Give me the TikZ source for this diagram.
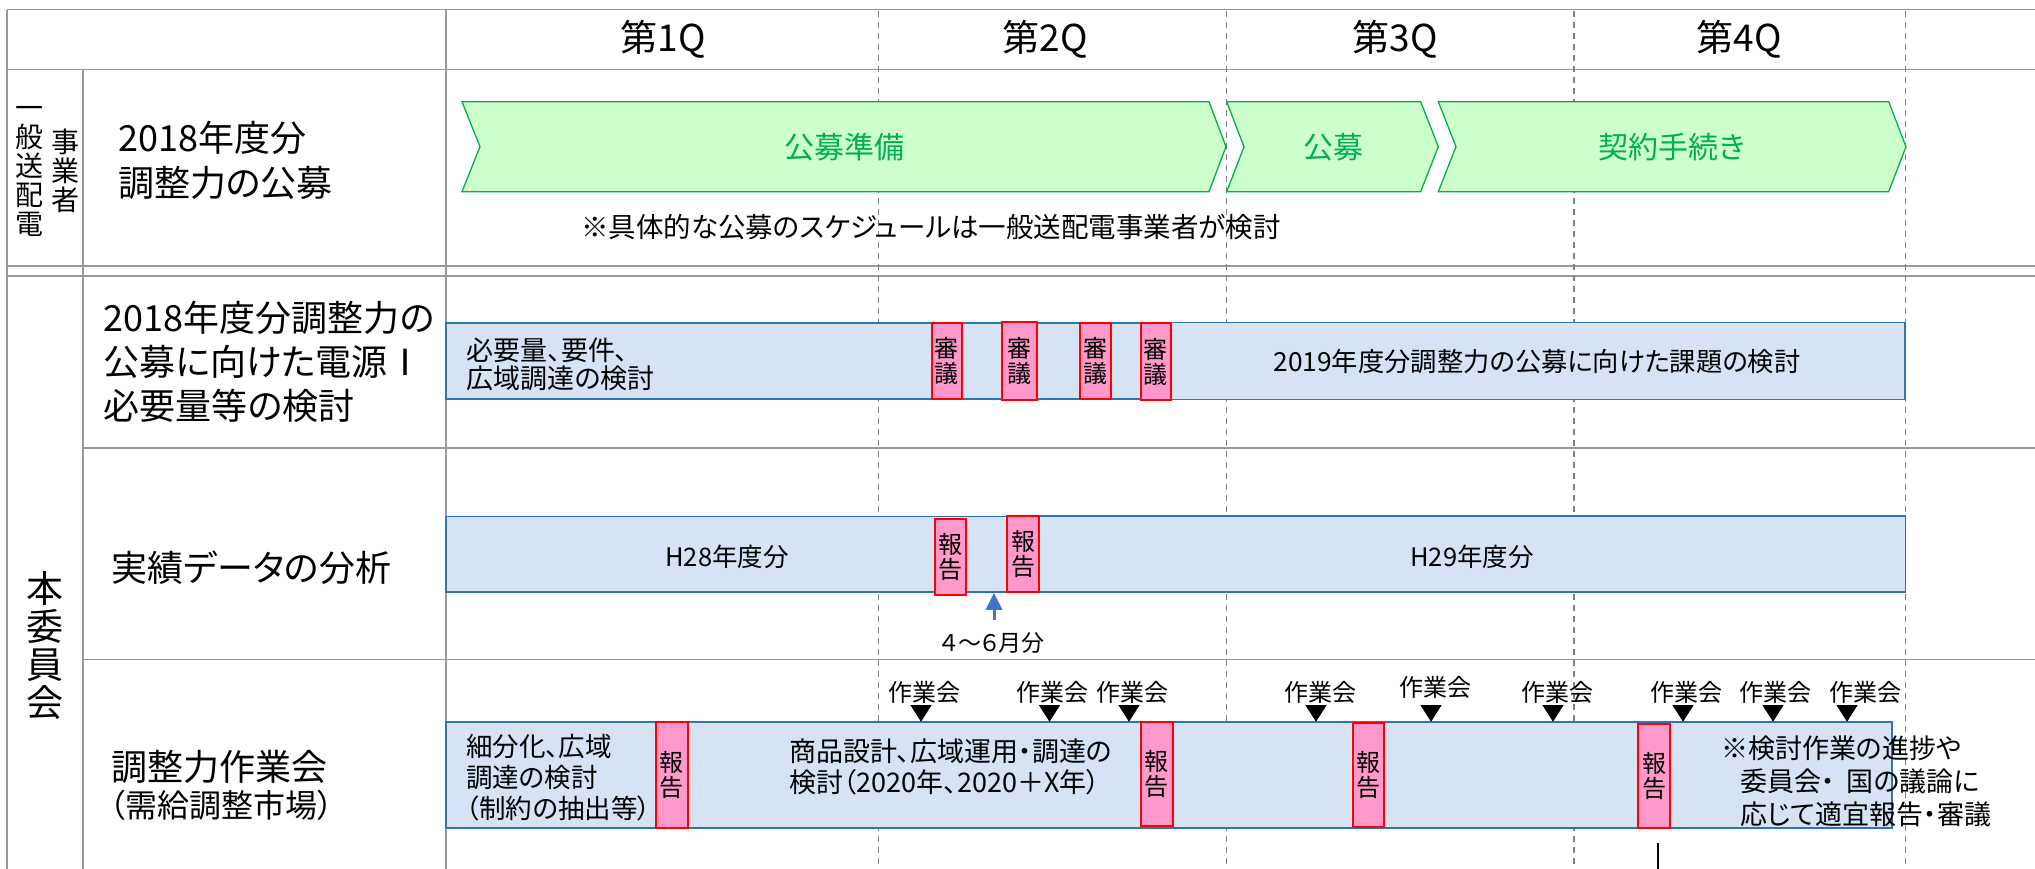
\documentclass[tikz,border=0pt]{standalone}
\usepackage{fontspec}
\setmainfont{Noto Sans CJK JP}[CharacterWidth=AlternateProportional]
\usetikzlibrary{fit,arrows.meta}
\definecolor{tgray}{HTML}{999999}
\definecolor{dgray}{HTML}{808080}
\definecolor{bfill}{HTML}{D5E3F5}
\definecolor{bdraw}{HTML}{2E75B6}
\definecolor{pfill}{HTML}{FF99CC}
\definecolor{gfill}{HTML}{CCFFCC}
\definecolor{gdraw}{HTML}{00B050}
\definecolor{arrblue}{HTML}{4472C4}
\newcommand\setfs[2]{\fontsize{#1}{#2}\selectfont}
\begin{document}
\begin{tikzpicture}[x=1pt,y=-1pt,
  tline/.style={draw=tgray, line width=1.8pt},
  qline/.style={draw=dgray, line width=1.3pt, dash pattern=on 6pt off 5pt},
  bluebar/.style={draw=bdraw, fill=bfill, line width=1.6pt, inner sep=0pt},
  pinkbox/.style={draw=red, fill=pfill, line width=2pt, inner sep=0pt},
  ptxt/.style={align=center, inner sep=0pt, font=\setfs{24}{25}},
  chev/.style={draw=gdraw, fill=gfill, line width=1.3pt},
  chevtxt/.style={text=gdraw, font=\setfs{30}{36}, inner sep=0pt},
  hdr/.style={font=\setfs{37}{42}, inner sep=0pt},
  lbl/.style={font=\setfs{36}{45}, align=left, anchor=west, inner sep=0pt},
  btxt/.style={font=\setfs{27}{28}, align=left, anchor=west, inner sep=0pt},
  wg/.style={font=\setfs{24}{26}, inner sep=0pt},
  vtxt/.style={align=center, inner sep=0pt}
]
\useasboundingbox (0,0) rectangle (2035,868);
% table lines
\draw[tline] (7,9.5) -- (2035,9.5);
\draw[tline] (7,69.5) -- (2035,69.5);
\draw[tline] (7,266) -- (2035,266);
\draw[tline] (7,276) -- (2035,276);
\draw[tline] (83,448) -- (2035,448);
\draw[tline] (83,659.5) -- (2035,659.5);
\draw[tline] (7,9.5) -- (7,870);
\draw[tline] (83,69.5) -- (83,870);
\draw[tline] (446,9.5) -- (446,870);
% quarter dashed lines
\foreach \qx in {878.5,1226.5,1574,1905.5}{
  \draw[qline] (\qx,11) -- (\qx,870);
}
% header
\node[hdr] (q1) at (663,39) {第1Q};
\node[hdr] (q2) at (1045,39) {第2Q};
\node[hdr] (q3) at (1395,39) {第3Q};
\node[hdr] (q4) at (1739,39) {第4Q};
% left labels
\node[vtxt, font=\setfs{28}{29}] (ippan) at (29.5,171.5) {一\\般\\送\\配\\電};
\node[vtxt, font=\setfs{28}{29}] (jigyo) at (65,171) {事\\業\\者};
\node[vtxt, font=\setfs{37}{38.3}] (honiin) at (45,645.5) {本\\委\\員\\会};
\node[lbl] (r0lbl) at (118,160.5) {2018年度分\\調整力の公募};
\node[lbl, font=\setfs{36}{44}] (r1lbl) at (103.6,362) {2018年度分調整力の\\公募に向けた電源Ⅰ\\必要量等の検討};
\node[lbl] (r2lbl) at (111.6,568) {実績データの分析};
\node[lbl] (r3lbl) at (111.6,766.7) {調整力作業会};
\node[lbl, font=\setfs{32}{34}] (r3sub) at (109,805) {（需給調整市場）};
% chevrons
\filldraw[chev] (462,101.7) -- (1209,101.7) -- (1226,146.7) -- (1209,191.7) -- (462,191.7) -- (480,146.7) -- cycle;
\filldraw[chev] (1226.7,101.7) -- (1420.7,101.7) -- (1438.3,146.7) -- (1420.7,191.7) -- (1226.7,191.7) -- (1244,146.7) -- cycle;
\filldraw[chev] (1438.3,101.7) -- (1888.7,101.7) -- (1906,146.7) -- (1888.7,191.7) -- (1438.3,191.7) -- (1456,146.7) -- cycle;
\node[chevtxt] (c1) at (844,147) {公募準備};
\node[chevtxt] (c2) at (1333,147) {公募};
\node[chevtxt] (c3) at (1672,147) {契約手続き};
\node[font=\setfs{27.5}{30}, anchor=west, inner sep=0pt] (note) at (581,226.7) {※具体的な公募のスケジュールは一般送配電事業者が検討};
% row 1
\node[bluebar, fit={(446,323) (1141,399)}] (barA) {};
\node[bluebar, fit={(1170.7,322.3) (1905,399.5)}] (barB) {};
\node[font=\setfs{26.3}{30}, inner sep=0pt] (barBt) at (1537,362) {2019年度分調整力の公募に向けた課題の検討};
\node[btxt] (r1txt) at (466.5,364) {必要量、要件、\\広域調達の検討};
\node[pinkbox, fit={(931.7,322.7) (961.7,399)}] (s1) {};
\node[pinkbox, fit={(1001.7,321.7) (1036.7,400)}] (s2) {};
\node[pinkbox, fit={(1080,322.7) (1110.7,399)}] (s3) {};
\node[pinkbox, fit={(1140.7,323.3) (1170.7,400)}] (s4) {};
\foreach \b in {s1,s2,s3,s4}{ \node[ptxt] (\b t) at (\b.center) {審\\議}; }
% row 2
\node[bluebar, fit={(446,516.5) (1007.3,592)}] (barC) {};
\node[bluebar, fit={(1039,516) (1905.4,591.7)}] (barD) {};
\node[font=\setfs{25.5}{28}, inner sep=0pt] (barCt) at (727,557) {H28年度分};
\node[font=\setfs{25.5}{28}, inner sep=0pt] (barDt) at (1472,557) {H29年度分};
\node[pinkbox, fit={(935.3,519) (965.7,595)}] (h1) {};
\node[pinkbox, fit={(1007.3,516) (1039,592.3)}] (h2) {};
\foreach \b in {h1,h2}{ \node[ptxt] (\b t) at (\b.center) {報\\告}; }
\coordinate (arrS) at (994,620);
\draw[arrblue, line width=3pt, -{Triangle[width=16pt,length=17pt]}] (arrS) -- (arrS |- barC.south);
\node[font=\setfs{23}{26}, inner sep=0pt] (arrlbl) at (993,643) {４～６月分};
% row 3
\node[bluebar, fit={(446,722) (1892,828)}] (barE) {};
\node[pinkbox, fit={(656,722.3) (687.5,828.3)}] (w1) {};
\node[pinkbox, fit={(1141,721.5) (1172.5,825.7)}] (w2) {};
\node[pinkbox, fit={(1352.5,723.3) (1384,826.7)}] (w3) {};
\node[pinkbox, fit={(1638.3,724) (1670,828.3)}] (w4) {};
\foreach \b in {w1,w2,w3,w4}{ \node[ptxt] (\b t) at (\b.center) {報\\告}; }
\node[font=\setfs{26.5}{31}, align=left, anchor=west, inner sep=0pt] (t31) at (466,778) {細分化、広域\\調達の検討\\（制約の抽出等）};
\node[font=\setfs{27}{31}, align=left, anchor=west, inner sep=0pt] (t32) at (789,767) {商品設計、広域運用・調達の\\検討（2020年、2020＋X年）};
\node[font=\setfs{27}{33}, align=left, anchor=west, inner sep=0pt] (t33) at (1721,781) {※検討作業の進捗や\\\hspace*{19pt}委員会・\hspace{12pt}国の議論に\\\hspace*{19pt}応じて適宜報告・審議};
\foreach \tx/\lx/\ly [count=\i] in {921/924.5/692.5, 1049.5/1052.7/692.5, 1129/1132/692.5, 1316/1320/692.5, 1431/1435/687.5, 1553/1557/692.5, 1683/1686/692.5, 1773/1775/692.5, 1847/1865.5/692.5}{
  \fill (\tx-10.7,705) -- (\tx+10.7,705) -- (\tx,721.7) -- cycle;
  \node[wg] (wg\i) at (\lx,\ly) {作業会};
}
\coordinate (vl) at (1658,843);
\draw[line width=2pt] (vl) -- ++(0,30);
\end{tikzpicture}
\end{document}
